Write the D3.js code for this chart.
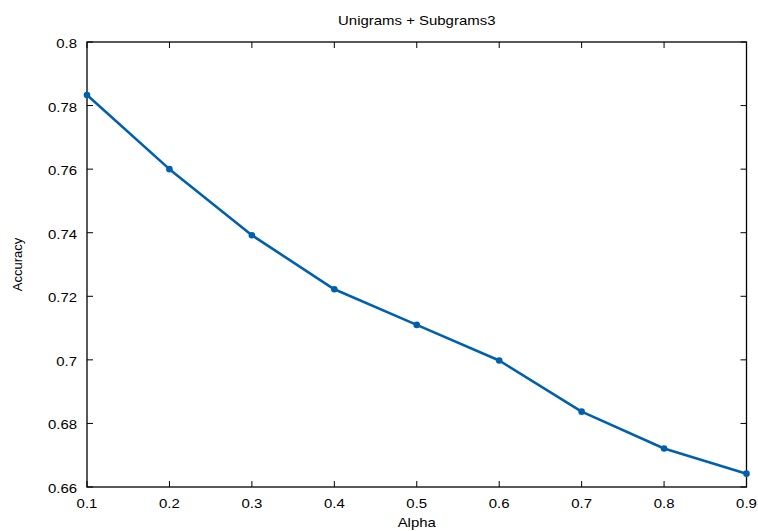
<!DOCTYPE html>
<html>
<head>
<meta charset="utf-8">
<script src="https://cdn.jsdelivr.net/npm/d3@7"></script>
<style>
  body { margin: 0; background: #fff; }
  svg text { font-family: "Liberation Sans", Arial, Helvetica, sans-serif; fill: #000; font-size: 13px; }
</style>
</head>
<body>
<svg id="chart" width="758" height="531"></svg>
<script>
// values
const alphas = [0.1, 0.2, 0.3, 0.4, 0.5, 0.6, 0.7, 0.8, 0.9];
const accuracy = [0.7833, 0.760, 0.7392, 0.7222, 0.7110, 0.6998, 0.6837, 0.6721, 0.6642];
const xTicks = [0.1, 0.2, 0.3, 0.4, 0.5, 0.6, 0.7, 0.8, 0.9];
const yTicks = [0.66, 0.68, 0.7, 0.72, 0.74, 0.76, 0.78, 0.8];

const titleText = "Unigrams + Subgrams3";
const xLabel = "Alpha";
const yLabel = "Accuracy";

const lineColor = "#0060ad";

const W = 758, H = 531;
const margin = { top: 42, right: 11.5, bottom: 44, left: 87 };
const stretch = 1.15; // the reference text looks a bit wide

const svg = d3.select("#chart");
const x = d3.scaleLinear().domain([0.1, 0.9]).range([margin.left, W - margin.right]);
const y = d3.scaleLinear().domain([0.66, 0.8]).range([H - margin.bottom, margin.top]);

const fmt = d => String(+d.toFixed(2));
const tickLen = 6;

function label(px, py, str, anchor) {
    return svg.append("text")
        .attr("transform", "translate(" + px + "," + py + ") scale(" + stretch + ",1)")
        .attr("text-anchor", anchor)
        .text(str);
}

// mirrored inward ticks, gnuplot style
const gx = svg.append("g");
xTicks.forEach(t => {
    gx.append("line").attr("x1", x(t)).attr("x2", x(t))
        .attr("y1", y(0.66)).attr("y2", y(0.66) - tickLen)
        .attr("stroke", "#000").attr("stroke-width", 1);
    gx.append("line").attr("x1", x(t)).attr("x2", x(t))
        .attr("y1", y(0.8)).attr("y2", y(0.8) + tickLen)
        .attr("stroke", "#000").attr("stroke-width", 1);
    label(x(t), y(0.66) + 21, fmt(t), "middle");
});

const gy = svg.append("g");
yTicks.forEach(t => {
    gy.append("line").attr("x1", x(0.1)).attr("x2", x(0.1) + tickLen)
        .attr("y1", y(t)).attr("y2", y(t))
        .attr("stroke", "#000").attr("stroke-width", 1);
    gy.append("line").attr("x1", x(0.9)).attr("x2", x(0.9) - tickLen)
        .attr("y1", y(t)).attr("y2", y(t))
        .attr("stroke", "#000").attr("stroke-width", 1);
    label(x(0.1) - 10, y(t) + 6, fmt(t), "end");
});

// frame
svg.append("rect")
    .attr("x", x(0.1)).attr("y", y(0.8))
    .attr("width", x(0.9) - x(0.1)).attr("height", y(0.66) - y(0.8))
    .attr("fill", "none").attr("stroke", "#000").attr("stroke-width", 1.3);

// series
const data = alphas.map((a, i) => ({ a: a, v: accuracy[i] }));
const line = d3.line().x(d => x(d.a)).y(d => y(d.v));

svg.append("path")
    .datum(data)
    .attr("d", line)
    .attr("fill", "none")
    .attr("stroke", lineColor)
    .attr("stroke-width", 2.6)
    .attr("stroke-linejoin", "round");

svg.selectAll("circle.pt")
    .data(data)
    .enter().append("circle")
    .attr("class", "pt")
    .attr("cx", d => x(d.a))
    .attr("cy", d => y(d.v))
    .attr("r", 3.3)
    .attr("fill", lineColor);

// labels
const midX = (x(0.1) + x(0.9)) / 2;
label(midX, 25, titleText, "middle");
label(midX, 527, xLabel, "middle");

svg.append("text")
    .attr("transform", "translate(22," + ((y(0.66) + y(0.8)) / 2) + ") rotate(-90)")
    .attr("text-anchor", "middle").text(yLabel);
</script>
</body>
</html>
